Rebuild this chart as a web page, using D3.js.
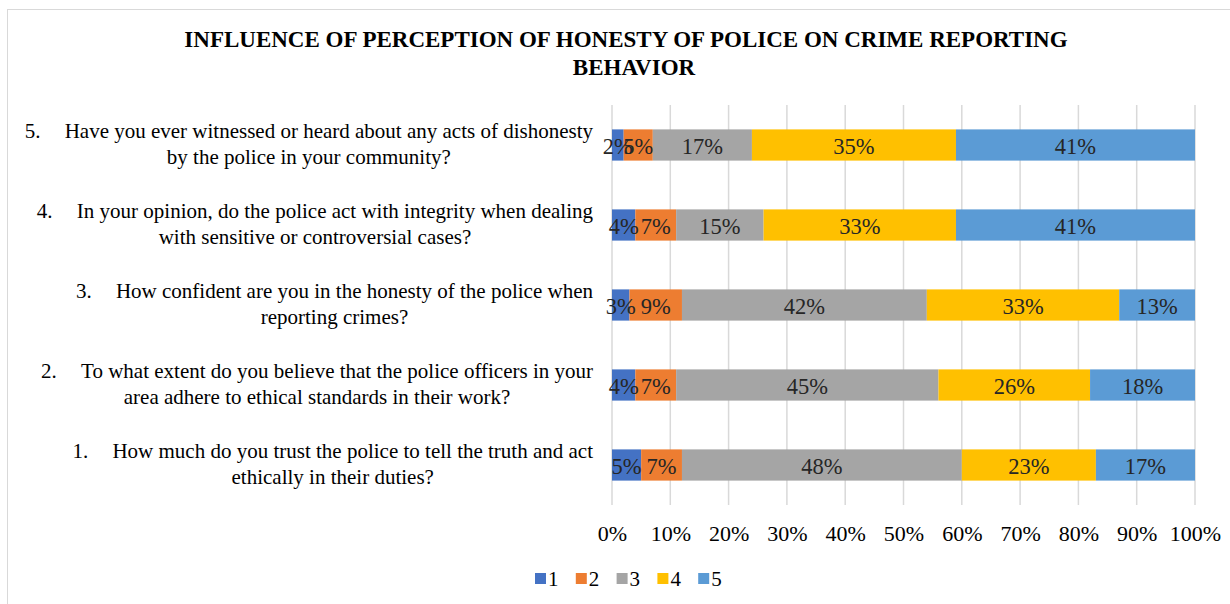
<!DOCTYPE html>
<html>
<head>
<meta charset="utf-8">
<script src="https://cdn.jsdelivr.net/npm/d3@7"></script>
<style>
  html, body { margin: 0; padding: 0; background: #fff; }
  svg { display: block; }
  text { font-family: "Liberation Serif", "Times New Roman", serif; }
</style>
</head>
<body>
<svg id="chart" width="1230" height="604"></svg>
<script>
// Survey questions, listed bottom to top as they stack on the chart
const questionNumbers = ["1.", "2.", "3.", "4.", "5."];
const questionFirstLines = [
  "How much do you trust the police to tell the truth and act",
  "To what extent do you believe that the police officers in your",
  "How confident are you in the honesty of the police when",
  "In your opinion, do the police act with integrity when dealing",
  "Have you ever witnessed or heard about any acts of dishonesty"
];
const questionSecondLines = [
  "ethically in their duties?",
  "area adhere to ethical standards in their work?",
  "reporting crimes?",
  "with sensitive or controversial cases?",
  "by the police in your community?"
];

// Response scale (1 to 5) and the share of answers for each question, in percent
const responseLevels = ["1", "2", "3", "4", "5"];
const level1 = [5, 4, 3, 4, 2];
const level2 = [7, 7, 9, 7, 5];
const level3 = [48, 45, 42, 15, 17];
const level4 = [23, 26, 33, 33, 35];
const level5 = [17, 18, 13, 41, 41];

const tickValues = [0, 10, 20, 30, 40, 50, 60, 70, 80, 90, 100];
const chartTitle = ["INFLUENCE OF PERCEPTION OF HONESTY OF POLICE ON CRIME REPORTING", "BEHAVIOR"];

const colors = ["#4472C4", "#ED7D31", "#A5A5A5", "#FFC000", "#5B9BD5"];
const seriesValues = [level1, level2, level3, level4, level5];

const rows = questionNumbers.map((num, i) => {
  const row = { num, line1: questionFirstLines[i], line2: questionSecondLines[i] };
  responseLevels.forEach((lv, k) => { row[lv] = seriesValues[k][i]; });
  return row;
});

const svg = d3.select("#chart");
const plot = { left: 612, right: 1195, top: 105, bottom: 505 };

// Chart frame
svg.append("rect")
  .attr("x", 7.5).attr("y", 9.5)
  .attr("width", 1240).attr("height", 620)
  .attr("fill", "#fff").attr("stroke", "#d9d9d9").attr("stroke-width", 1);

const x = d3.scaleLinear().domain([0, 100]).range([plot.left, plot.right]);
const y = d3.scaleBand()
  .domain(rows.map(r => r.num))
  .range([plot.bottom, plot.top])
  .paddingInner(0.61).paddingOuter(0.305);

// Title
svg.append("g").selectAll("text").data(chartTitle).join("text")
  .attr("x", (d, i) => i === 0 ? 626 : 634)
  .attr("y", (d, i) => 47 + i * 28)
  .attr("text-anchor", "middle")
  .attr("font-size", 23).attr("font-weight", "bold").attr("fill", "#000")
  .text(d => d);

// Vertical gridlines
svg.append("g").selectAll("line").data(tickValues).join("line")
  .attr("x1", d => x(d)).attr("x2", d => x(d))
  .attr("y1", plot.top).attr("y2", plot.bottom)
  .attr("stroke", "#d9d9d9").attr("stroke-width", 1.5);

// Stacked bars
const stack = d3.stack().keys(responseLevels);
const stacked = stack(rows);

const layers = svg.append("g").selectAll("g").data(stacked).join("g")
  .attr("fill", (d, i) => colors[i]);

layers.selectAll("rect").data(d => d).join("rect")
  .attr("x", d => x(d[0]))
  .attr("width", d => x(d[1]) - x(d[0]))
  .attr("y", d => y(d.data.num))
  .attr("height", y.bandwidth());

// Value labels centred in each segment
const labelLayer = svg.append("g");
stacked.forEach(series => {
  labelLayer.selectAll(null).data(series).join("text")
    .attr("x", d => (x(d[0]) + x(d[1])) / 2)
    .attr("y", d => y(d.data.num) + y.bandwidth() / 2 + 9)
    .attr("text-anchor", "middle")
    .attr("font-size", 22.5).attr("fill", "#262626")
    .text(d => (d[1] - d[0]) + "%");
});

// Category labels: numbered first line right-aligned to the axis, second line centred beneath
const catRight = 593;
const catGroup = svg.append("g");
rows.forEach(r => {
  const cy = y(r.num) + y.bandwidth() / 2;
  const first = catGroup.append("text")
    .attr("x", catRight).attr("y", cy - 7)
    .attr("text-anchor", "end")
    .attr("font-size", 21).attr("fill", "#000")
    .text(r.line1);
  const w = first.node().getComputedTextLength();
  const numX = catRight - w - 40;
  catGroup.append("text")
    .attr("x", numX).attr("y", cy - 7)
    .attr("font-size", 21).attr("fill", "#000")
    .text(r.num);
  catGroup.append("text")
    .attr("x", (numX + catRight) / 2).attr("y", cy + 19)
    .attr("text-anchor", "middle")
    .attr("font-size", 21).attr("fill", "#000")
    .text(r.line2);
});

// Percentage axis labels
const axis = d3.axisBottom(x).tickValues(tickValues).tickSize(0).tickPadding(0)
  .tickFormat(d => d + "%");
const axisG = svg.append("g").attr("transform", `translate(0, ${plot.bottom + 36})`).call(axis);
axisG.select(".domain").remove();
axisG.selectAll("text")
  .attr("dy", null).attr("y", 0)
  .attr("font-family", "Liberation Serif, Times New Roman, serif")
  .attr("font-size", 22).attr("fill", "#000");

// Legend
const legend = svg.append("g").attr("transform", "translate(535, 573)");
const items = legend.selectAll("g").data(responseLevels).join("g")
  .attr("transform", (d, i) => `translate(${i * 40.8}, 0)`);
items.append("rect").attr("width", 11).attr("height", 11).attr("fill", (d, i) => colors[i]);
items.append("text").attr("x", 13).attr("y", 13)
  .attr("font-size", 21).attr("fill", "#000").text(d => d);
</script>
</body>
</html>
